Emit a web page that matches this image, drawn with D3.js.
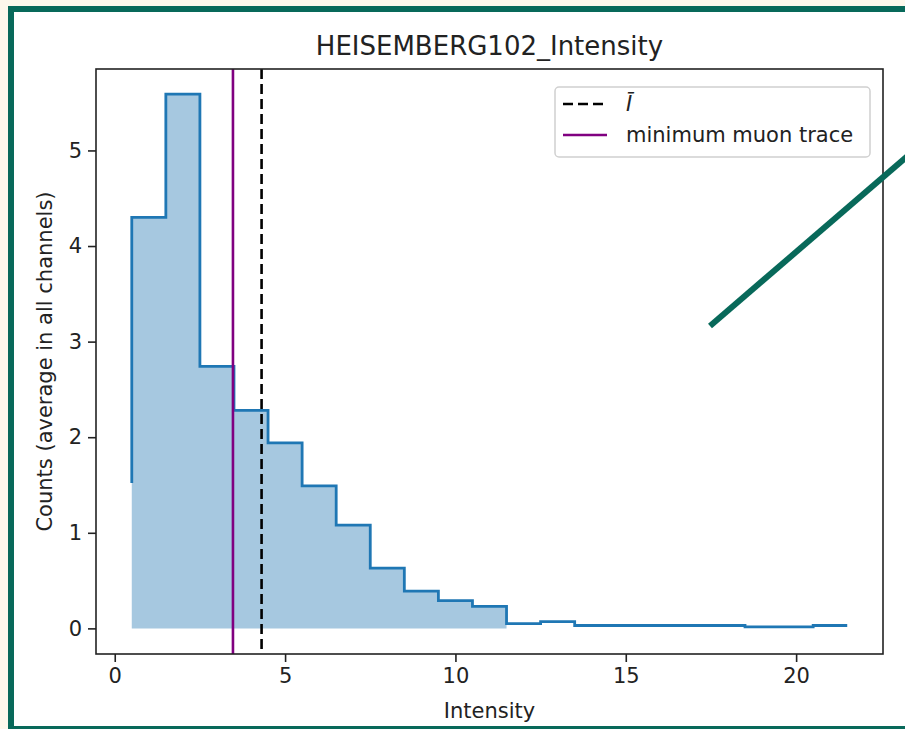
<!DOCTYPE html>
<html>
<head>
<meta charset="utf-8">
<script src="https://cdn.jsdelivr.net/npm/d3@7"></script>
<style>
  body { margin: 0; background: #fdf8ec; overflow: hidden; }
  svg { display: block; }
  text { font-family: "DejaVu Sans", sans-serif; fill: #222; }
</style>
</head>
<body>
<div id="chart"></div>
<script>
// histogram bins (left edges, width 1)
const binLeft = [0.5, 1.5, 2.5, 3.5, 4.5, 5.5, 6.5, 7.5, 8.5, 9.5, 10.5,
  11.5, 12.5, 13.5, 14.5, 15.5, 16.5, 17.5, 18.5, 19.5, 20.5]
const counts = [4.30, 5.59, 2.74, 2.28, 1.94, 1.49, 1.08, 0.63, 0.39, 0.29, 0.23,
  0.05, 0.07, 0.03, 0.03, 0.03, 0.03, 0.03, 0.015, 0.015, 0.03]
const outlineStart = 1.52   // outline begins here at the first edge
const fillEnd = 11.5        // shaded area stops at this edge
const meanIntensity = 4.31
const minMuonTrace = 3.47
const xTicks = [0, 5, 10, 15, 20]
const yTicks = [0, 1, 2, 3, 4, 5]
const title = 'HEISEMBERG102_Intensity'
const xLabel = 'Intensity'
const yLabel = 'Counts (average in all channels)'

function draw () {
  const width = 905
  const height = 729
  const pLeft = 96, pRight = 883, pTop = 69, pBottom = 654

  const svg = d3.select('#chart')
    .append('svg')
    .attr('width', width)
    .attr('height', height)

  // slide frame
  svg.append('rect')
    .attr('x', 11).attr('y', 9)
    .attr('width', 1000).attr('height', 720)
    .attr('fill', 'white')
    .attr('stroke', '#08695a')
    .attr('stroke-width', 6)

  const x = d3.scaleLinear().domain([-0.55, 22.55]).range([pLeft, pRight])
  const y = d3.scaleLinear().domain([-0.268, 5.852]).range([pBottom, pTop])

  const plot = svg.append('g')

  // shaded histogram
  const fillPts = []
  binLeft.forEach((b, i) => {
    if (b + 1 <= fillEnd) {
      fillPts.push([b, counts[i]], [b + 1, counts[i]])
    }
  })
  plot.append('path')
    .datum(fillPts)
    .attr('d', d3.area().x(d => x(d[0])).y0(y(0)).y1(d => y(d[1])))
    .attr('fill', '#a6c8e0')

  // step outline
  const linePts = [[binLeft[0], outlineStart]]
  binLeft.forEach((b, i) => {
    linePts.push([b, counts[i]], [b + 1, counts[i]])
  })
  plot.append('path')
    .datum(linePts)
    .attr('d', d3.line().x(d => x(d[0])).y(d => y(d[1])))
    .attr('fill', 'none')
    .attr('stroke', '#1f77b4')
    .attr('stroke-width', 2.8)

  // vertical markers
  plot.append('line')
    .attr('x1', x(minMuonTrace)).attr('x2', x(minMuonTrace))
    .attr('y1', pTop).attr('y2', pBottom)
    .attr('stroke', '#800080')
    .attr('stroke-width', 2.6)
  plot.append('line')
    .attr('x1', x(meanIntensity)).attr('x2', x(meanIntensity))
    .attr('y1', pTop).attr('y2', pBottom)
    .attr('stroke', 'black')
    .attr('stroke-width', 2.6)
    .attr('stroke-dasharray', '10,5')

  // axes
  const xAxis = svg.append('g')
    .attr('transform', `translate(0,${pBottom})`)
    .call(d3.axisBottom(x).tickValues(xTicks).tickSize(8).tickPadding(6).tickFormat(d3.format('d')))
  const yAxis = svg.append('g')
    .attr('transform', `translate(${pLeft},0)`)
    .call(d3.axisLeft(y).tickValues(yTicks).tickSize(8).tickPadding(6).tickFormat(d3.format('d')))
  ;[xAxis, yAxis].forEach(a => {
    a.select('.domain').remove()
    a.selectAll('line').attr('stroke', '#222').attr('stroke-width', 1.6)
    a.selectAll('text').attr('font-size', 21).attr('font-family', '"DejaVu Sans", sans-serif').attr('fill', '#222')
  })

  svg.append('rect')
    .attr('x', pLeft).attr('y', pTop)
    .attr('width', pRight - pLeft).attr('height', pBottom - pTop)
    .attr('fill', 'none')
    .attr('stroke', '#222')
    .attr('stroke-width', 1.6)

  // labels
  svg.append('text')
    .attr('x', (pLeft + pRight) / 2).attr('y', 55)
    .attr('text-anchor', 'middle')
    .attr('font-size', 26)
    .text(title)
  svg.append('text')
    .attr('x', (pLeft + pRight) / 2).attr('y', 718)
    .attr('text-anchor', 'middle')
    .attr('font-size', 21)
    .text(xLabel)
  svg.append('text')
    .attr('transform', `translate(52,${(pTop + pBottom) / 2}) rotate(-90)`)
    .attr('text-anchor', 'middle')
    .attr('font-size', 21)
    .text(yLabel)

  // legend
  const legend = svg.append('g').attr('transform', 'translate(555,87)')
  legend.append('rect')
    .attr('width', 315).attr('height', 70).attr('rx', 4)
    .attr('fill', 'white').attr('fill-opacity', 0.8)
    .attr('stroke', '#d0d0d0').attr('stroke-width', 1.5)
  legend.append('line')
    .attr('x1', 8).attr('x2', 52).attr('y1', 17).attr('y2', 17)
    .attr('stroke', 'black').attr('stroke-width', 2.6).attr('stroke-dasharray', '10,5')
  legend.append('text')
    .attr('x', 71).attr('y', 24)
    .attr('font-size', 21)
    .attr('font-style', 'italic')
    .text('Ī')
  legend.append('line')
    .attr('x1', 8).attr('x2', 52).attr('y1', 48).attr('y2', 48)
    .attr('stroke', '#800080').attr('stroke-width', 2.6)
  legend.append('text')
    .attr('x', 71).attr('y', 55)
    .attr('font-size', 21)
    .text('minimum muon trace')

  // slide pointer line
  svg.append('line')
    .attr('x1', 710).attr('y1', 326)
    .attr('x2', 960).attr('y2', 111)
    .attr('stroke', '#08695a')
    .attr('stroke-width', 6)
}

draw()
</script>
</body>
</html>
